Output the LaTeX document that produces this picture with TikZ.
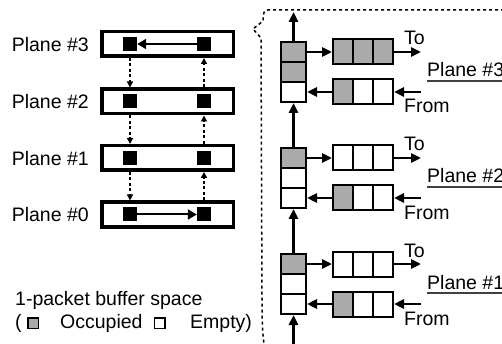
\documentclass[tikz,border=0pt]{standalone}
\usepackage{fontspec}
\setmainfont{Liberation Sans}
\usetikzlibrary{arrows.meta,calc}
\definecolor{cellgrey}{RGB}{170,170,170}
\tikzset{
  plane/.style={draw, line width=3.5pt, minimum width=131.5pt, minimum height=24.5pt, inner sep=0pt},
  blk/.style={fill=black, minimum size=14pt, inner sep=0pt},
  cell/.style={draw, line width=2pt, minimum width=25pt, minimum height=20pt, inner sep=0pt},
  qcell/.style={draw, line width=2pt, minimum width=20pt, minimum height=25pt, inner sep=0pt},
  keybox/.style={draw, line width=1.5pt, minimum size=10.5pt, inner sep=0pt},
  occ/.style={fill=cellgrey},
  emp/.style={fill=white},
  lbl/.style={inner sep=0pt, font=\fontsize{19.5}{23}\selectfont},
  hop/.style={line width=1.5pt, dash pattern=on 3pt off 2.5pt, -{Triangle[length=6pt,width=6pt]}},
  flow/.style={line width=2.7pt, -{Triangle[length=10pt,width=9pt]}},
  link/.style={line width=2pt, -{Triangle[length=9pt,width=10pt]}},
  frame/.style={line width=1.5pt, dash pattern=on 3pt off 3pt},
}
\begin{document}
\begin{tikzpicture}[x=1pt,y=-1pt]
\useasboundingbox (0,0) rectangle (502,344);
\clip (0,0) rectangle (502,344);

% ---- planes and their routers ----
\foreach \k/\yc in {3/44, 2/101.5, 1/158, 0/214.5} {
  \node[lbl, anchor=base east] (n\k) at (89,\yc+7.5) {Plane \#\k};
  \node[plane] (b\k) at (167.5,\yc) {};
  \node[blk] (q\k l) at (130,\yc) {};
  \node[blk] (q\k r) at (204,\yc) {};
}
\draw[link] (q3r.west) -- (q3l.east);
\draw[link] (q0l.east) -- (q0r.west);

% inter-plane hops: down on the left, up on the right
\foreach \u/\d in {3/2, 2/1, 1/0} {
  \draw[hop] (b\u.south -| q\u l) -- (b\d.north -| q\d l);
  \draw[hop] (b\d.north -| q\d r) -- (b\u.south -| q\u r);
}

% ---- legend ----
\node[lbl, anchor=base west] (leg) at (15,305) {1-packet buffer space};
\node[lbl, anchor=base west] (lpar) at (15,328) {(};
\node[keybox, occ] (kocc) at (33,323) {};
\node[lbl, anchor=base west] (locc) at (60,328) {Occupied};
\node[keybox, emp] (kemp) at (159.5,323) {};
\node[lbl, anchor=base west] (lemp) at (190,328) {Empty)};

% ---- dotted brace frame around the buffer detail ----
\draw[frame] (510,10) -- (268,10) .. controls (264,10) and (263,13) .. (263,21)
  -- (253,29) -- (261,38) -- (262,300) .. controls (262,330) and (263,338) .. (265,350);

% ---- buffers of each plane ----
\foreach \p/\t/\sb/\qf in {3/42/occ/occ, 2/148/emp/emp, 1/254/emp/emp} {
  \node[cell, occ] (s\p a) at (293.5,\t+10) {};
  \node[cell, \sb] (s\p b) at (293.5,\t+30) {};
  \node[cell, emp] (s\p c) at (293.5,\t+50) {};
  \node[qcell, \qf] (t\p a) at (343,\t+10) {};
  \node[qcell, \qf] (t\p b) at (363,\t+10) {};
  \node[qcell, \qf] (t\p c) at (383,\t+10) {};
  \node[qcell, occ] (f\p a) at (343,\t+50) {};
  \node[qcell, emp] (f\p b) at (363,\t+50) {};
  \node[qcell, emp] (f\p c) at (383,\t+50) {};
  \coordinate (out\p) at (421,\t+10);
  \coordinate (in\p) at (421,\t+50);
  \draw[flow] (s\p a.east) -- (t\p a.west);
  \draw[flow] (t\p c.east) -- (out\p);
  \draw[flow] (in\p) -- (f\p c.east);
  \draw[flow] (f\p a.west) -- (s\p c.east);
  \node[lbl, anchor=base west] (lto\p) at (404,\t+3) {To};
  \node[lbl, anchor=base west] (lfr\p) at (404,\t+71) {From};
  \node[lbl, anchor=base west] (lpl\p) at (427,\t+35) {Plane \#\p};
  \draw[line width=1.3pt, black!75] ([yshift=-4pt]lpl\p.base west) -- ([yshift=-4pt]lpl\p.base east);
}
\coordinate (top) at (293.5,12);
\coordinate (bot) at (293.5,350);
\draw[flow] (s3a.north) -- (top);
\draw[flow] (s2a.north) -- (s3c.south);
\draw[flow] (s1a.north) -- (s2c.south);
\draw[flow] (bot) -- (s1c.south);
\end{tikzpicture}
\end{document}
